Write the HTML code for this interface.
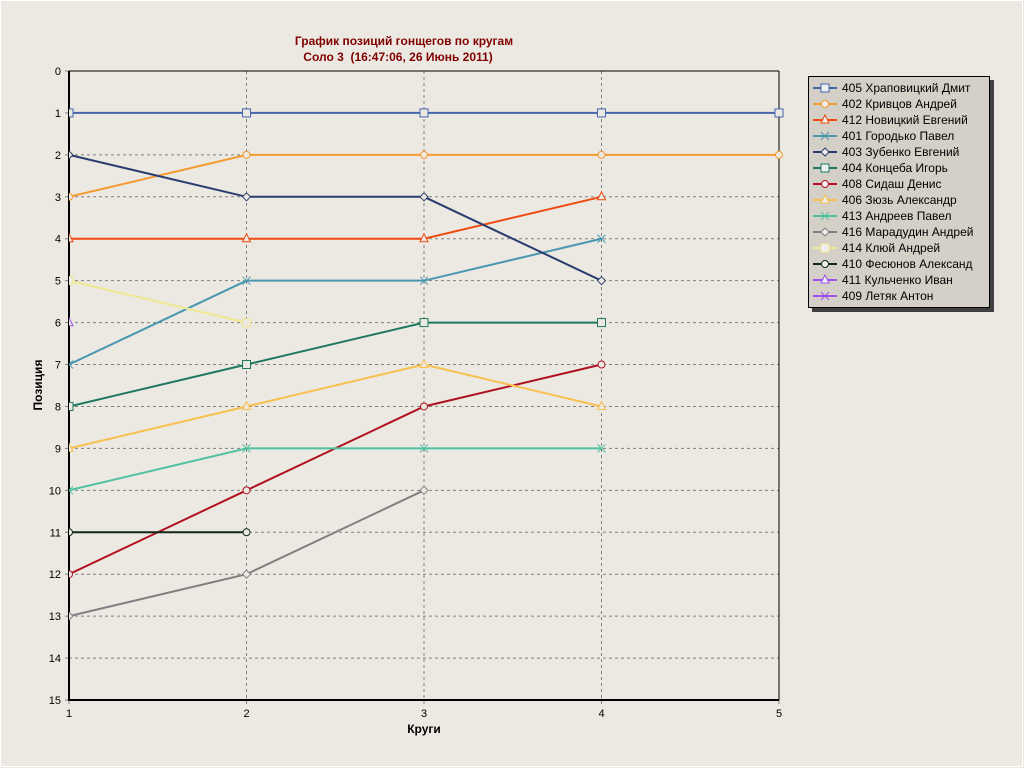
<!DOCTYPE html>
<html><head><meta charset="utf-8"><style>
html,body{margin:0;padding:0;background:#ece9e2;}
svg{display:block;font-family:"Liberation Sans","DejaVu Sans",sans-serif;}
</style></head><body>
<svg id="chart" width="1024" height="768" xmlns="http://www.w3.org/2000/svg">
<rect x="0" y="0" width="1024" height="768" fill="#ece9e2"/>
<rect x="0.5" y="0.5" width="1022" height="766" fill="none" stroke="#fff"/>
<text x="404" y="45" text-anchor="middle" fill="#800000" font-size="12" font-weight="bold">График позиций гонщегов по кругам</text>
<text x="398" y="61" text-anchor="middle" fill="#800000" font-size="12" font-weight="bold" xml:space="preserve">Соло 3  (16:47:06, 26 Июнь 2011)</text>
<g id="grid"></g>
<g id="axes"></g>
<g id="series"></g>
<text x="42" y="385" text-anchor="middle" font-size="12" font-weight="bold" transform="rotate(-90 42 385)">Позиция</text>
<text x="424" y="733" text-anchor="middle" font-size="12" font-weight="bold">Круги</text>
<g id="legend"></g>
</svg>
<script>
const laps=[1,2,3,4,5];
const yTicks=[0,1,2,3,4,5,6,7,8,9,10,11,12,13,14,15];
const names=["405 Храповицкий Дмит","402 Кривцов Андрей","412 Новицкий Евгений","401 Городько Павел","403 Зубенко Евгений","404 Концеба Игорь","408 Сидаш Денис","406 Зюзь Александр","413 Андреев Павел","416 Марадудин Андрей","414 Клюй Андрей","410 Фесюнов Александ","411 Кульченко Иван","409 Летяк Антон"];
const s405=[1,1,1,1,1];
const s402=[3,2,2,2,2];
const s412=[4,4,4,3];
const s401=[7,5,5,4];
const s403=[2,3,3,5];
const s404=[8,7,6,6];
const s408=[12,10,8,7];
const s406=[9,8,7,8];
const s413=[10,9,9,9];
const s416=[13,12,10];
const s414=[5,6];
const s410=[11,11];
const s411=[6];
const s409=[];
const seriesValues=[s405,s402,s412,s401,s403,s404,s408,s406,s413,s416,s414,s410,s411,s409];
const colors=["#4466aa","#f49a30","#f04a10","#4a98b0","#2a3c70","#1e7860","#b01020","#f8c050","#50c0a0","#808080","#f0e890","#102818","#a050f0","#a050f0"];
const markers=["square","circle","triangle","x","diamond","square","circle","triangle","x","diamond","square","circle","triangle","x"];
const X0=69,X1=779,Y0=71,Y1=700;
const xs=v=>X0+(v-1)*(X1-X0)/4;
const ys=v=>Y0+v*(Y1-Y0)/15;
const NS="http://www.w3.org/2000/svg";
function mk(tag,attrs,parent){const e=document.createElementNS(NS,tag);for(const k in attrs)e.setAttribute(k,attrs[k]);parent.appendChild(e);return e;}
const grid=document.getElementById('grid'),axes=document.getElementById('axes'),ser=document.getElementById('series'),leg=document.getElementById('legend');
yTicks.forEach(t=>{const y=ys(t);
 if(t>0&&t<15){const l=mk('line',{x1:X0,x2:X1,y1:y,y2:y,stroke:'#808080','stroke-dasharray':'3,3'},grid);
 
 }
 const tk=mk('line',{x1:X0-4,x2:X0,y1:y,y2:y,stroke:'#808080'},axes);
 
 
 const tx=mk('text',{x:X0-8,y:y+4,'text-anchor':'end','font-size':'11'},axes);tx.textContent=t;
 
 
});
laps.forEach(l=>{const x=xs(l);
 if(l>1&&l<5){const g=mk('line',{x1:x,x2:x,y1:Y0,y2:Y1,stroke:'#808080','stroke-dasharray':'3,3'},grid);
 
 }
 const tk=mk('line',{x1:x,x2:x,y1:Y1,y2:Y1+4,stroke:'#808080'},axes);
 
 
 const tx=mk('text',{x:x,y:Y1+17,'text-anchor':'middle','font-size':'11'},axes);tx.textContent=l;
 
 
});
const ta=mk('line',{x1:X0,x2:X1,y1:Y0,y2:Y0,stroke:'#000'},axes);


const ra=mk('line',{x1:X1,x2:X1,y1:Y0,y2:Y1,stroke:'#000'},axes);


const la=mk('line',{x1:X0,x2:X0,y1:Y0,y2:Y1+1,stroke:'#000','stroke-width':2},axes);


const ba=mk('line',{x1:X0,x2:X1,y1:Y1,y2:Y1,stroke:'#000','stroke-width':2},axes);


function marker(type,x,y,c,p,fill){let e;
 if(type==='square')e=mk('rect',{x:x-4,y:y-4,width:8,height:8,fill:fill,stroke:c},p);
 else if(type==='circle')e=mk('circle',{cx:x,cy:y,r:3.5,fill:fill,stroke:c},p);
 else if(type==='triangle')e=mk('polygon',{points:`${x},${y-5} ${x+4},${y+3} ${x-4},${y+3}`,fill:fill,stroke:c},p);
 else if(type==='diamond')e=mk('polygon',{points:`${x},${y-4} ${x+4},${y} ${x},${y+4} ${x-4},${y}`,fill:fill,stroke:c},p);
 else e=mk('path',{d:`M${x-4},${y-4}L${x+4},${y+4}M${x+4},${y-4}L${x-4},${y+4}`,stroke:c,fill:'none'},p);
 return e;}
const clip=mk('clipPath',{id:'pc'},document.getElementById('chart'));mk('rect',{x:X0,y:Y0-6,width:X1-X0+8,height:Y1-Y0+12},clip);
ser.setAttribute('clip-path','url(#pc)');
seriesValues.forEach((vals,i)=>{const g=mk('g',{},ser);
 
 
 if(vals.length>1){const pl=mk('polyline',{points:vals.map((v,j)=>xs(laps[j])+','+ys(v)).join(' '),fill:'none',stroke:colors[i],'stroke-width':2},g);
 
 }
 vals.forEach((v,j)=>{const m=marker(markers[i],xs(laps[j]),ys(v),colors[i],g,'#ece9e2');
 
 });
});
const sh=mk('rect',{x:812,y:80,width:182,height:232,fill:'#404040'},leg);


const lb=mk('rect',{x:808.5,y:76.5,width:181,height:231,fill:'#d4d0c8',stroke:'#000'},leg);


names.forEach((n,i)=>{const y=88+i*16;const g=mk('g',{},leg);
 
 
 mk('line',{x1:813,x2:837,y1:y,y2:y,stroke:colors[i],'stroke-width':2},g);
 marker(markers[i],825,y,colors[i],g,'#f0f0f0');
 const t=mk('text',{x:842,y:y+4,'font-size':'12'},g);t.textContent=n;
});
</script>
</body></html>
